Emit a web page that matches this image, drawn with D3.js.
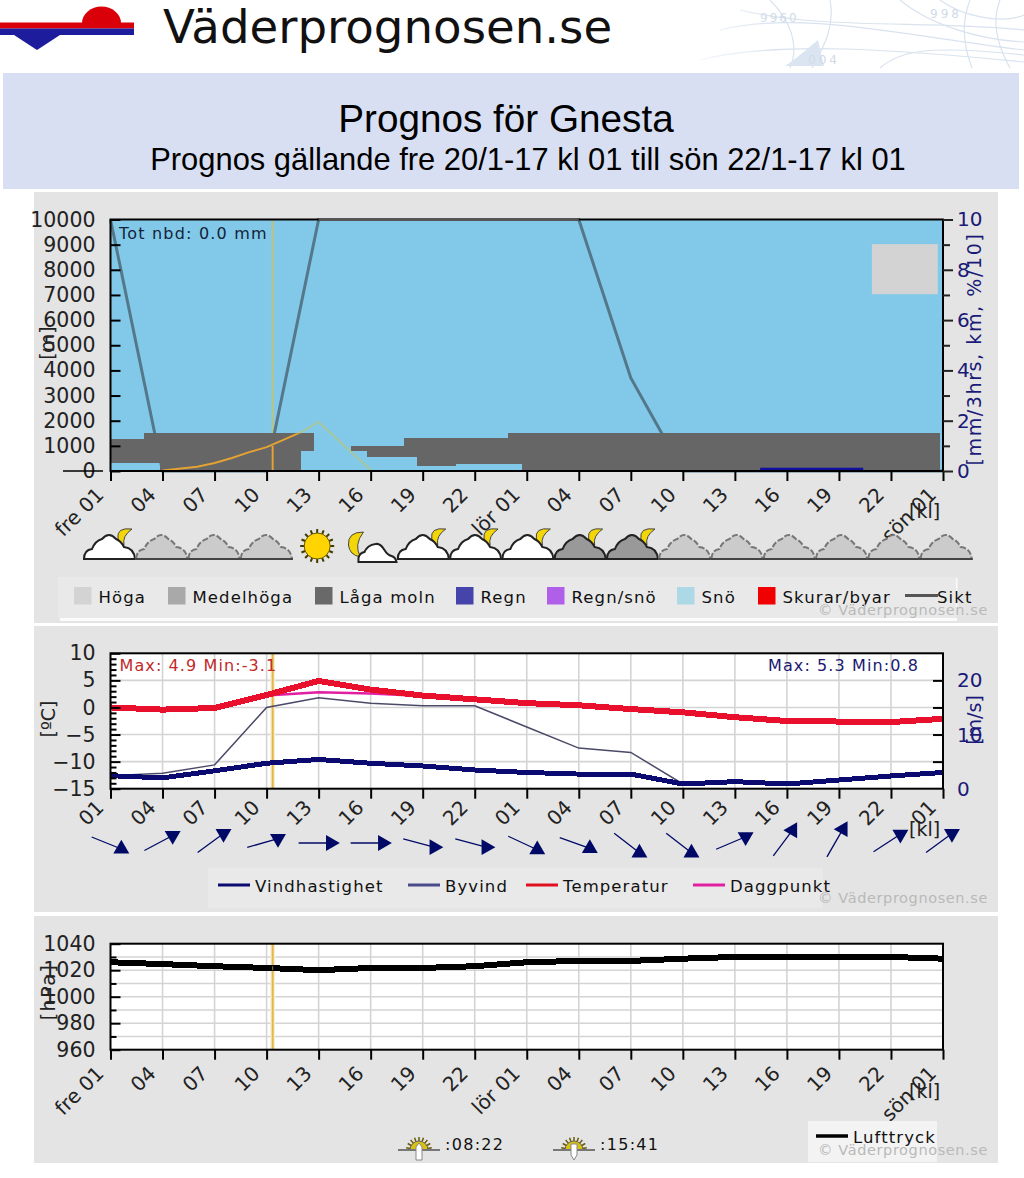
<!DOCTYPE html>
<html>
<head>
<meta charset="utf-8">
<script src="https://cdn.jsdelivr.net/npm/d3@7"></script>
<style>
  html, body { margin: 0; padding: 0; background: #fff; }
  svg { display: block; }
  text { font-family: "DejaVu Sans", sans-serif; }
</style>
</head>
<body>
<div id="chart"></div>
<script>
// hours since fre 01, one tick every third hour
const hours = [0, 3, 6, 9, 12, 15, 18, 21, 24, 27, 30, 33, 36, 39, 42, 45, 48];
const dayLabels = ["fre 01", "04", "07", "10", "13", "16", "19", "22", "lör 01", "04", "07", "10", "13", "16", "19", "22", "sön 01"];
const hourLabels = ["01", "04", "07", "10", "13", "16", "19", "22", "01", "04", "07", "10", "13", "16", "19", "22", "01"];
const nowHour = 9.35;

// low cloud blocks
const cloudStart = [0, 1.93, 2.85, 10.97, 13.87, 14.77, 16.9, 17.67, 19.9, 22.9, 23.7];
const cloudEnd = [1.93, 2.85, 10.97, 11.73, 14.77, 16.9, 17.67, 19.9, 22.9, 23.7, 47.8];
const cloudBase = [330, 330, 30, 800, 800, 570, 570, 200, 265, 265, 30];
const cloudTop = [1260, 1500, 1500, 1500, 1000, 1000, 1320, 1320, 1320, 1500, 1500];
const highStart = [43.9], highEnd = [47.7], highBase = [7030], highTop = [9020];
const rainStart = [37.46], rainEnd = [43.4], rainValue = [0.13];

const sikt = [10, 0, 0, 0, 10, 10, 10, 10, 10, 10, 3.7, 0, 0, 0, 0, 0, 0];
const sunHours = [3, 5, 6, 7, 8, 9, 10, 11, 12, 15];
const sunHeight = [20, 170, 320, 520, 750, 950, 1250, 1550, 1950, 40];

const temperature = [0, -0.4, -0.1, 2.3, 4.9, 3.3, 2.2, 1.5, 0.8, 0.4, -0.3, -0.9, -1.8, -2.5, -2.6, -2.7, -2.1];
const dewPoint = [-0.1, -0.5, -0.2, 2.2, 2.8, 2.6, 2.1, 1.4, 0.7, 0.3, -0.4, -1.0, -1.9, -2.6, -2.7, -2.8, -2.2];
const windSpeed = [2.4, 2.0, 3.3, 4.7, 5.4, 4.7, 4.2, 3.45, 3.0, 2.7, 2.7, 0.87, 1.3, 0.87, 1.6, 2.35, 3.0];
const gust = [2.4, 2.85, 4.4, 15, 16.8, 15.8, 15.3, 15.3, 11.4, 7.5, 6.7, 0.87, 1.3, 0.87, 1.6, 2.35, 3.0];
const windHeading = [112, 62, 54, 74, 90, 90, 105, 105, 115, 110, 128, 128, 67, 37, 30, 57, 54];
const pressure = [1026, 1024.6, 1023, 1021.7, 1020, 1021.7, 1021.7, 1023, 1026, 1027, 1027, 1028.7, 1030, 1030, 1030, 1030, 1028.7];

const skyIcons = ["wm", "p", "p", "p", "sun", "mc", "wm", "wm", "wm", "gm", "gm", "p", "p", "p", "p", "p", "p"];

const cloudLegend = ["Höga", "Medelhöga", "Låga moln", "Regn", "Regn/snö", "Snö", "Skurar/byar"];
const cloudLegendColors = ["#d3d3d3", "#a9a9a9", "#696969", "#4444aa", "#b060e8", "#add8e6", "#f00000"];
const cloudLegendX = [74, 168, 315, 456, 547, 677, 758];
const windLegend = ["Vindhastighet", "Byvind", "Temperatur", "Daggpunkt"];
const windLegendColors = ["#0a0a70", "#4b4b8b", "#e01020", "#e020a0"];
const windLegendX = [218, 408, 526, 693];

const navy = "#1a1a78";
const svg = d3.select("#chart").append("svg").attr("width", 1024).attr("height", 1178);

const x = d3.scaleLinear().domain([0, 48]).range([110.5, 943]);
const indexed = arr => arr.map((v, i) => [hours[i], v]);

// ---------- page header ----------
const map = svg.append("g").attr("fill", "none").attr("stroke", "#d9e3ef").attr("stroke-width", 1.2);
const fade = svg.append("defs").append("linearGradient").attr("id", "fade");
fade.append("stop").attr("offset", "0").attr("stop-color", "#fff").attr("stop-opacity", 1);
fade.append("stop").attr("offset", "0.3").attr("stop-color", "#fff").attr("stop-opacity", 0);
["M700,60 C780,40 900,50 1024,62", "M720,30 C800,10 900,35 1024,50", "M740,10 C820,30 930,20 1024,30",
 "M900,0 C930,25 980,40 1024,42", "M830,0 C835,25 825,45 812,68", "M970,0 C960,25 965,50 972,68", "M770,0 C790,20 800,45 790,68",
 "M940,0 C960,15 1000,25 1024,15", "M880,68 C900,50 930,45 1024,55", "M1000,0 C990,25 1000,50 1010,68"]
  .forEach(d => map.append("path").attr("d", d));
map.append("path").attr("d", "M785,66 C795,60 808,48 818,40 L824,66 Z").attr("fill", "#dbe5f1").attr("stroke", "none");
svg.append("text").attr("x", 808).attr("y", 64).attr("fill", "#d0dbe8").attr("font-size", 12).attr("letter-spacing", 3).text("004");
svg.append("text").attr("x", 760).attr("y", 22).attr("fill", "#d0dbe8").attr("font-size", 12).attr("letter-spacing", 2).text("9960");
svg.append("text").attr("x", 930).attr("y", 18).attr("fill", "#d0dbe8").attr("font-size", 12).attr("letter-spacing", 3).text("998");
svg.append("rect").attr("x", 670).attr("width", 354).attr("height", 70).attr("fill", "url(#fade)");

const logo = svg.append("g");
logo.append("path").attr("d", "M82,23 A19,16 0 0 1 121,23 Z").attr("fill", "#d9000a");
logo.append("rect").attr("y", 22.5).attr("width", 134).attr("height", 6).attr("fill", "#d9000a");
logo.append("rect").attr("y", 28.5).attr("width", 134).attr("height", 6.5).attr("fill", "#1c1c9c");
logo.append("path").attr("d", "M14,35 L60,35 L37,50 Z").attr("fill", "#1c1c9c");
svg.append("text").attr("x", 163).attr("y", 43).attr("font-size", 46.7).attr("fill", "#111").text("Väderprognosen.se");

svg.append("rect").attr("x", 3).attr("y", 73).attr("width", 1016).attr("height", 116).attr("fill", "#d8dff2");
svg.append("text").attr("x", 506).attr("y", 132).attr("text-anchor", "middle").attr("font-size", 38.7)
  .style("font-family", "'Liberation Sans'").attr("fill", "#000").text("Prognos för Gnesta");
svg.append("text").attr("x", 528).attr("y", 170).attr("text-anchor", "middle").attr("font-size", 30.9)
  .style("font-family", "'Liberation Sans'").attr("fill", "#000").text("Prognos gällande fre 20/1-17 kl 01 till sön 22/1-17 kl 01");

// ---------- shared helpers ----------
const panel = (y0, y1) => svg.append("rect").attr("x", 34).attr("y", y0).attr("width", 964).attr("height", y1 - y0).attr("fill", "#e4e4e4");
panel(192, 623); panel(626, 912); panel(916, 1163);

const label = (sel, xp, yp, txt, size, color, spacing) => sel.append("text").attr("x", xp).attr("y", yp)
  .attr("font-size", size).attr("fill", color).attr("letter-spacing", spacing || 0).text(txt);

const vTitle = (xp, yp, txt, color, spacing) => svg.append("text")
  .attr("transform", `translate(${xp},${yp}) rotate(-90)`).attr("text-anchor", "middle")
  .attr("font-size", 19).attr("letter-spacing", spacing || 0).attr("fill", color).text(txt);

function watermark(yp) {
  label(svg, 818, yp, "© Väderprognosen.se", 14.5, "#b9b9b9", 0.6);
}

function frame(y) {
  const [b, t] = y.range();
  svg.append("rect").attr("x", x(0)).attr("y", t).attr("width", x(48) - x(0)).attr("height", b - t)
    .attr("fill", "none").attr("stroke", "#000").attr("stroke-width", 2);
}

function bottomAxis(y, labels, dx, dy) {
  const g = svg.append("g").attr("transform", `translate(0,${y.range()[0]})`)
    .call(d3.axisBottom(x).tickValues(hours).tickFormat((d, i) => labels[i]).tickSize(10).tickSizeOuter(0));
  g.select(".domain").remove();
  g.selectAll(".tick line").attr("stroke", "#000").attr("stroke-width", 2);
  g.selectAll(".tick text").attr("font-size", 20).attr("fill", "#222").style("font-family", "'DejaVu Sans'")
    .attr("text-anchor", "end").attr("x", 0).attr("y", 0).attr("dy", "0.35em")
    .attr("transform", `translate(${dx},${dy}) rotate(-45)`);
}

function leftAxis(y, major, minor, format) {
  const big = svg.append("g").attr("transform", `translate(${x(0)},0)`)
    .call(d3.axisLeft(y).tickValues(major).tickFormat(format || d3.format("d")).tickSize(-10).tickSizeOuter(0));
  big.select(".domain").remove();
  big.selectAll(".tick line").attr("stroke", "#000").attr("stroke-width", 2);
  big.selectAll(".tick text").attr("x", -15).attr("font-size", 20.5).attr("fill", "#222").style("font-family", "'DejaVu Sans'");
  if (minor) {
    const small = svg.append("g").attr("transform", `translate(${x(0)},0)`)
      .call(d3.axisLeft(y).tickValues(minor).tickFormat("").tickSize(-6).tickSizeOuter(0));
    small.select(".domain").remove();
    small.selectAll(".tick line").attr("stroke", "#000").attr("stroke-width", 2);
  }
}

function grid(y, values) {
  const g = svg.append("g").attr("stroke", "#d4d4d4").attr("stroke-width", 1.6);
  g.selectAll("line.h").data(values).join("line").attr("class", "h")
    .attr("x1", x(0)).attr("x2", x(48)).attr("y1", d => y(d)).attr("y2", d => y(d));
  g.selectAll("line.v").data(hours.slice(1, -1)).join("line").attr("class", "v")
    .attr("y1", y.range()[0]).attr("y2", y.range()[1]).attr("x1", d => x(d)).attr("x2", d => x(d));
}

function nowLine(y) {
  svg.append("line").attr("x1", x(nowHour)).attr("x2", x(nowHour)).attr("y1", y.range()[0]).attr("y2", y.range()[1])
    .attr("stroke", "#f6efd8").attr("stroke-width", 5);
  svg.append("line").attr("x1", x(nowHour)).attr("x2", x(nowHour)).attr("y1", y.range()[0]).attr("y2", y.range()[1])
    .attr("stroke", "#e6b544").attr("stroke-width", 2);
}

function series(y, values, color, width, crisp) {
  return svg.append("path").datum(indexed(values))
    .attr("d", d3.line().x(d => x(d[0])).y(d => y(d[1])))
    .attr("fill", "none").attr("stroke", color).attr("stroke-width", width)
    .attr("shape-rendering", crisp ? "crispEdges" : null);
}

// ---------- top panel: clouds, rain, visibility ----------
const yCloud = d3.scaleLinear().domain([0, 10000]).range([471, 219.5]);
const yRight = d3.scaleLinear().domain([0, 10]).range([471, 219.5]);

svg.append("rect").attr("x", x(0)).attr("y", yCloud(10000)).attr("width", x(48) - x(0)).attr("height", yCloud(0) - yCloud(10000)).attr("fill", "#82c9e9");
svg.append("line").attr("x1", x(nowHour)).attr("x2", x(nowHour)).attr("y1", yCloud(0)).attr("y2", yCloud(10000)).attr("stroke", "#bcc37e").attr("stroke-width", 2);

const sunLine = d3.line().x((d, i) => x(sunHours[i])).y(d => yCloud(d));
svg.append("path").attr("d", sunLine(sunHeight)).attr("fill", "none").attr("stroke", "#a8c69c").attr("stroke-width", 2);
series(yRight, sikt, "#54788a", 3);

svg.append("g").attr("fill", "#666").selectAll("rect").data(cloudStart).join("rect")
  .attr("x", d => x(d)).attr("width", (d, i) => x(cloudEnd[i]) - x(d))
  .attr("y", (d, i) => yCloud(cloudTop[i])).attr("height", (d, i) => yCloud(cloudBase[i]) - yCloud(cloudTop[i]))
  .attr("shape-rendering", "crispEdges");

svg.append("g").attr("fill", "#d3d3d3").selectAll("rect").data(highStart).join("rect")
  .attr("x", d => x(d)).attr("width", (d, i) => x(highEnd[i]) - x(d))
  .attr("y", (d, i) => yCloud(highTop[i])).attr("height", (d, i) => yCloud(highBase[i]) - yCloud(highTop[i]));

svg.append("g").attr("fill", "#1010a0").selectAll("rect").data(rainStart).join("rect")
  .attr("x", d => x(d)).attr("width", (d, i) => x(rainEnd[i]) - x(d))
  .attr("y", (d, i) => yRight(rainValue[i])).attr("height", (d, i) => yRight(0) - yRight(rainValue[i]));

// sun path and time marker turn orange where they cross the low cloud
const defs = svg.select("defs");
const clip = defs.append("clipPath").attr("id", "lowCloud");
clip.selectAll("rect").data(cloudStart).join("rect")
  .attr("x", d => x(d)).attr("width", (d, i) => x(cloudEnd[i]) - x(d))
  .attr("y", (d, i) => yCloud(cloudTop[i])).attr("height", (d, i) => yCloud(cloudBase[i]) - yCloud(cloudTop[i]));
svg.append("path").attr("d", sunLine(sunHeight)).attr("clip-path", "url(#lowCloud)").attr("fill", "none").attr("stroke", "#e3a233").attr("stroke-width", 2);
svg.append("line").attr("x1", x(nowHour)).attr("x2", x(nowHour)).attr("y1", yCloud(0)).attr("y2", yCloud(1000)).attr("stroke", "#e3a233").attr("stroke-width", 2);

frame(yCloud);

// the visibility line stays visible along the top edge of the frame
defs.append("clipPath").attr("id", "topEdge").append("rect")
  .attr("x", x(12)).attr("y", yCloud(10000) - 4).attr("width", x(27) - x(12)).attr("height", 6);
series(yRight, sikt, "#555", 3).attr("clip-path", "url(#topEdge)");

bottomAxis(yCloud, dayLabels, -11, 20);
leftAxis(yCloud, d3.range(0, 10001, 1000));
svg.append("line").attr("x1", 63).attr("x2", 103).attr("y1", yCloud(0)).attr("y2", yCloud(0)).attr("stroke", "#000").attr("stroke-width", 1.5);

const rightMajor = svg.append("g").attr("transform", `translate(${x(48)},0)`)
  .call(d3.axisRight(yRight).tickValues([0, 2, 4, 6, 8, 10]).tickFormat(d3.format("d")).tickSize(10).tickSizeOuter(0));
rightMajor.select(".domain").remove();
rightMajor.selectAll(".tick line").attr("stroke", "#222").attr("stroke-width", 2);
rightMajor.selectAll(".tick text").attr("x", 14).attr("font-size", 20).attr("fill", navy).style("font-family", "'DejaVu Sans'");
const rightMinor = svg.append("g").attr("transform", `translate(${x(48)},0)`)
  .call(d3.axisRight(yRight).tickValues([1, 3, 5, 7, 9]).tickFormat("").tickSize(7).tickSizeOuter(0));
rightMinor.select(".domain").remove();
rightMinor.selectAll(".tick line").attr("stroke", "#222").attr("stroke-width", 2);

label(svg, 119, 239, "Tot nbd: 0.0 mm", 16, "#12233a", 1.2);
vTitle(54, 343, "[m]", "#222");
vTitle(981, 349, "[mm/3hrs, km, %/10]", navy, 1.6);
label(svg, 909, 518, "[kl]", 19, "#222");

// ---------- sky icons ----------
const iconX = d3.scaleBand().domain(d3.range(skyIcons.length)).range([83, 972]);
const cloudShape = "M1,26 Q1,17 9,16 Q12,8 19,6 Q26,-2 33,6 Q38,8 41,14 Q51,15 52,26 Z";
const moonShape = "M49,-4 Q33,-6 35,6 Q36,11 41,12 Q39,3 49,-4 Z";
const icons = svg.append("g").selectAll("g").data(skyIcons).join("g")
  .attr("transform", (d, i) => `translate(${iconX(i)},533)`);

icons.filter(d => d === "wm" || d === "gm").append("path").attr("d", moonShape)
  .attr("fill", "#f2d60a").attr("stroke", "#444").attr("stroke-width", 1);
icons.filter(d => d === "wm" || d === "gm" || d === "p").append("path").attr("d", cloudShape)
  .attr("fill", d => d === "wm" ? "#fff" : d === "gm" ? "#999" : "#cbcbcb")
  .attr("stroke", d => d === "p" ? "#777" : "#222").attr("stroke-width", 2)
  .attr("stroke-dasharray", d => d === "p" ? "6 2" : null);
icons.filter(d => d === "p").append("line").attr("x1", 0).attr("x2", 53).attr("y1", 26).attr("y2", 26)
  .attr("stroke", "#444").attr("stroke-width", 2);

const sunIcon = icons.filter(d => d === "sun").append("g").attr("transform", "translate(25,13)");
sunIcon.selectAll("line").data(d3.range(0, 360, 22.5)).join("line")
  .attr("x1", 0).attr("x2", 0).attr("y1", -11).attr("y2", -17).attr("stroke", "#443a00").attr("stroke-width", 2)
  .attr("transform", d => `rotate(${d})`);
sunIcon.append("circle").attr("r", 13).attr("fill", "#ffd400").attr("stroke", "#6a5a00").attr("stroke-width", 1);

const mc = icons.filter(d => d === "mc");
mc.append("path").attr("d", "M19,-1 Q3,-1 4,12 Q5,22 16,24 Q9,12 19,-1 Z").attr("fill", "#f2d60a").attr("stroke", "#444").attr("stroke-width", 1);
mc.append("path").attr("d", "M14,29 L14,25 Q15,20 20,19 Q23,12 31,11 Q36,10 40,17 Q43,22 47,23 Q51,24 52,29 Z")
  .attr("fill", "#fff").attr("stroke", "#222").attr("stroke-width", 2);

// ---------- legend, top panel ----------
svg.append("rect").attr("x", 58).attr("y", 577).attr("width", 899).attr("height", 41).attr("fill", "#e9e9e9");
svg.append("rect").attr("x", 60).attr("y", 618).attr("width", 897).attr("height", 3).attr("fill", "#fbfbfb");
svg.append("rect").attr("x", 956).attr("y", 578).attr("width", 1.5).attr("height", 30).attr("fill", "#fbfbfb");
svg.append("g").selectAll("rect").data(cloudLegend).join("rect")
  .attr("x", (d, i) => cloudLegendX[i]).attr("y", 587).attr("width", 17.5).attr("height", 17.5)
  .attr("fill", (d, i) => cloudLegendColors[i]);
svg.append("g").selectAll("text").data(cloudLegend).join("text")
  .attr("x", (d, i) => cloudLegendX[i] + 24.5).attr("y", 603).attr("font-size", 16.5).attr("letter-spacing", 1.1)
  .attr("fill", "#111").text(d => d);
svg.append("line").attr("x1", 905).attr("x2", 938).attr("y1", 595.5).attr("y2", 595.5).attr("stroke", "#555").attr("stroke-width", 3);
label(svg, 937, 603, "Sikt", 16.5, "#111", 1.1);
watermark(615);

// ---------- middle panel: temperature and wind ----------
const yTemp = d3.scaleLinear().domain([-15, 10]).range([788.7, 653.3]);
const yWind = d3.scaleLinear().domain([0, 25]).range([788.7, 653.3]);

svg.append("rect").attr("x", x(0)).attr("y", 653.3).attr("width", x(48) - x(0)).attr("height", 135.4).attr("fill", "#fff");
grid(yTemp, [-10, -5, 0, 5]);
nowLine(yTemp);
series(yTemp, dewPoint, "#e020a0", 2.5);
series(yWind, gust, "#4a4a68", 1.5);
series(yTemp, temperature, "#e8102c", 6, true);
series(yWind, windSpeed, "#0a0a70", 5, true);

frame(yTemp);
bottomAxis(yTemp, hourLabels, -11, 15);
leftAxis(yTemp, [-15, -10, -5, 0, 5, 10], d3.range(-15, 10).filter(d => d % 5 !== 0));

const windAxis = svg.append("g").attr("transform", `translate(${x(48)},0)`)
  .call(d3.axisLeft(yWind).tickValues([5, 10, 15, 20]).tickFormat("").tickSize(10).tickSizeOuter(0));
windAxis.select(".domain").remove();
windAxis.selectAll(".tick line").attr("stroke", "#000").attr("stroke-width", 2);
svg.append("g").selectAll("text").data([0, 10, 20]).join("text")
  .attr("x", 957).attr("y", d => yWind(d)).attr("dy", "0.35em").attr("font-size", 20).attr("fill", navy).text(d => d);

label(svg, 119.5, 671, "Max: 4.9 Min:-3.1", 16, "#c22a2a", 1.1);
label(svg, 768, 671, "Max: 5.3 Min:0.8", 16, "#1a1a70", 1.1);
vTitle(55, 719, "[ºC]", "#222");
vTitle(981, 720, "[m/s]", navy);
label(svg, 909, 836, "[kl]", 19, "#222");

// wind arrows: thin tail, triangle snapped to the nearest quarter
const headRotation = h => h < 45 ? 270 : h < 80 ? 180 : h < 108 ? 90 : 0;
const arrowLength = 32;
const arrows = svg.append("g").selectAll("g").data(windHeading).join("g")
  .attr("transform", (d, i) => `translate(${x(hours[i]) - 4},843)`);
const rad = d => d * Math.PI / 180;
arrows.append("line")
  .attr("x1", d => -Math.sin(rad(d)) * arrowLength / 2).attr("y1", d => Math.cos(rad(d)) * arrowLength / 2)
  .attr("x2", d => Math.sin(rad(d)) * arrowLength / 2).attr("y2", d => -Math.cos(rad(d)) * arrowLength / 2)
  .attr("stroke", "#000a66").attr("stroke-width", 1.3);
arrows.append("path").attr("d", d3.symbol(d3.symbolTriangle, 110))
  .attr("fill", "#000a66")
  .attr("transform", d => `translate(${Math.sin(rad(d)) * arrowLength / 2},${-Math.cos(rad(d)) * arrowLength / 2}) rotate(${headRotation(d)})`);

svg.append("rect").attr("x", 208).attr("y", 868).attr("width", 615).attr("height", 40).attr("fill", "#e9e9e9");
svg.append("g").selectAll("line").data(windLegend).join("line")
  .attr("x1", (d, i) => windLegendX[i]).attr("x2", (d, i) => windLegendX[i] + 32).attr("y1", 885).attr("y2", 885)
  .attr("stroke", (d, i) => windLegendColors[i]).attr("stroke-width", 3);
svg.append("g").selectAll("text").data(windLegend).join("text")
  .attr("x", (d, i) => windLegendX[i] + 37).attr("y", 891.5).attr("font-size", 16.5).attr("letter-spacing", 1.1)
  .attr("fill", "#111").text(d => d);
watermark(903);

// ---------- bottom panel: pressure ----------
const yPres = d3.scaleLinear().domain([960, 1040]).range([1049.7, 943.7]);

svg.append("rect").attr("x", x(0)).attr("y", 943.7).attr("width", x(48) - x(0)).attr("height", 106).attr("fill", "#fff");
grid(yPres, [970, 980, 990, 1000, 1010, 1020, 1030]);
nowLine(yPres);
series(yPres, pressure, "#000", 6, true);
svg.append("line").attr("x1", x(nowHour)).attr("x2", x(nowHour)).attr("y1", yPres(1023)).attr("y2", yPres(1020))
  .attr("stroke", "#8a7a40").attr("stroke-width", 1);

frame(yPres);
bottomAxis(yPres, dayLabels, -11, 20);
leftAxis(yPres, [960, 980, 1000, 1020, 1040], [970, 990, 1010, 1030]);
vTitle(55, 992, "[hPa]", "#222", 1.5);
label(svg, 909, 1098, "[kl]", 19, "#222");

// sunrise and sunset
const sunMarks = [{ x: 419, time: ":08:22", dir: -1 }, { x: 574, time: ":15:41", dir: 1 }];
const marks = svg.append("g").selectAll("g").data(sunMarks).join("g").attr("transform", d => `translate(${d.x},1150)`);
marks.selectAll("line.ray").data(d3.range(-80, 81, 20)).join("line").attr("class", "ray")
  .attr("y1", -7).attr("y2", -13).attr("stroke", "#6a5a10").attr("stroke-width", 1.5).attr("transform", d => `rotate(${d})`);
marks.append("path").attr("d", "M-9,0 A9,9 0 0 1 9,0 Z").attr("fill", "#d8c010").attr("stroke", "#665").attr("stroke-width", 1);
marks.append("line").attr("x1", -21).attr("x2", 21).attr("stroke", "#777").attr("stroke-width", 2);
marks.append("path").attr("d", d => d.dir < 0 ? "M-3,10 L-3,-3 L0,-7 L3,-3 L3,10 Z" : "M-3,-6 L3,-6 L3,5 L0,10 L-3,5 Z")
  .attr("fill", "#fff").attr("stroke", "#888").attr("stroke-width", 1);
marks.append("text").attr("x", 26).attr("y", 0).attr("font-size", 16).attr("letter-spacing", 1.3).attr("fill", "#111").text(d => d.time);

svg.append("rect").attr("x", 808).attr("y", 1121).attr("width", 129).attr("height", 41).attr("fill", "#f3f3f3");
svg.append("line").attr("x1", 816).attr("x2", 848).attr("y1", 1136).attr("y2", 1136).attr("stroke", "#000").attr("stroke-width", 3.5);
label(svg, 853, 1143, "Lufttryck", 16.5, "#111", 1.1);
watermark(1155);
</script>
</body>
</html>
